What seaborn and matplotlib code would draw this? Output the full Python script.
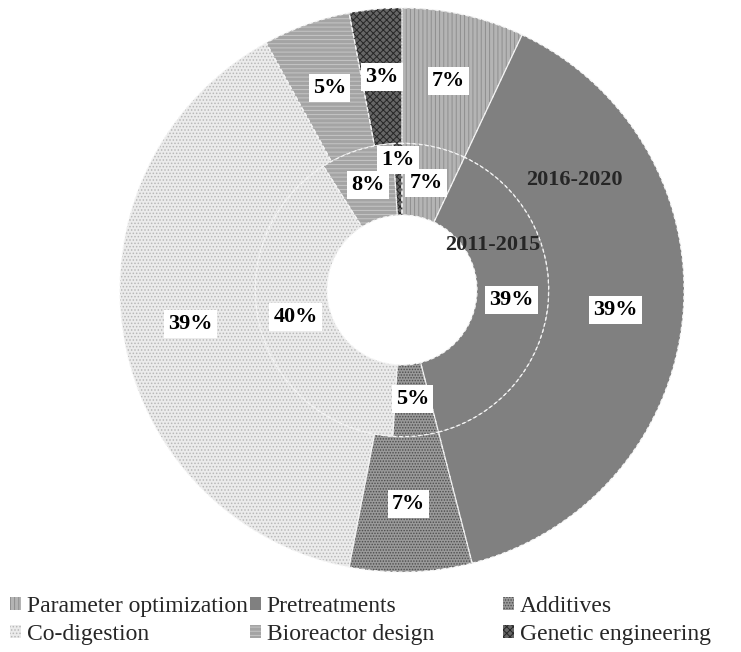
import matplotlib
matplotlib.use("Agg")
import matplotlib.pyplot as plt
from matplotlib.patches import Patch
import numpy as np
import seaborn as sns

# Research focus shares (%) by period
categories = ["Parameter optimization", "Pretreatments", "Additives",
              "Co-digestion", "Bioreactor design", "Genetic engineering"]
share_2016_2020 = [7, 39, 7, 39, 5, 3]
share_2011_2015 = [7, 39, 5, 40, 8, 1]
ring_names = ["2016-2020", "2011-2015"]

sns.set_theme(style="white")
plt.rcParams["font.family"] = ["Liberation Serif", "DejaVu Serif"]
plt.rcParams["hatch.linewidth"] = 0.7

# greyscale fills and their hatch patterns
face_colors = ["#b4b4b4", "#808080", "#9a9a9a", "#ebebeb", "#a4a4a4", "#666666"]
hatch_colors = ["#8e8e8e", "#808080", "#4c4c4c", "#b8b8b8", "#c6c6c6", "#262626"]
hatches = ["||||", None, "......", ".....", "----", "xxxxx"]

fig = plt.figure(figsize=(7.41, 6.52), dpi=100)
R_px = 282
cx, cy = 402, 652 - 290
ax = fig.add_axes([(cx - R_px) / 741, (cy - R_px) / 652, 2 * R_px / 741, 2 * R_px / 652])

r_outer, r_mid, r_hole = 1.0, 0.52, 0.266


def ring(values, radius, width, pctdist):
    wedges, _, autotexts = ax.pie(
        values, radius=radius, startangle=90, counterclock=False,
        colors=face_colors, autopct="%.0f%%", pctdistance=pctdist,
        wedgeprops=dict(width=width, linewidth=0),
        textprops=dict(fontsize=16, fontweight="bold", color="black"))
    for w, h, hc in zip(wedges, hatches, hatch_colors):
        if h:
            w.set_hatch(h)
            w.set_edgecolor(hc)
            w.set_linewidth(0)
    # dashed light separators
    ax.pie(values, radius=radius, startangle=90, counterclock=False,
           colors=["none"] * len(values),
           wedgeprops=dict(width=width, linewidth=0.9, edgecolor="#f4f4f4",
                           linestyle=(0, (3, 2)), fill=False))
    for t in autotexts:
        t.set_bbox(dict(boxstyle="square,pad=0.18", facecolor="white", edgecolor="none"))
        t.set_zorder(5)
    return wedges, autotexts


ring(share_2016_2020, r_outer, r_outer - r_mid, 0.76)
w_in, t_in = ring(share_2011_2015, r_mid, r_mid - r_hole, 0.75)

# nudge the narrowest inner label outward
for w, t, v in zip(w_in, t_in, share_2011_2015):
    if v <= 1:
        ang = np.deg2rad((w.theta1 + w.theta2) / 2)
        t.set_position((0.46 * np.cos(ang), 0.46 * np.sin(ang)))

ax.text(0.613, 0.39, ring_names[0], ha="center", va="center",
        fontsize=16, fontweight="bold", zorder=6)
ax.text(0.323, 0.16, ring_names[1], ha="center", va="center",
        fontsize=16, fontweight="bold", zorder=6)

ax.set_xlim(-1, 1)
ax.set_ylim(-1, 1)
ax.set_aspect("auto")
ax.axis("off")

handles = [Patch(facecolor=fc, edgecolor=hc, hatch=h, linewidth=0)
           for fc, hc, h in zip(face_colors, hatch_colors, hatches)]

col_x = [10 / 741, 250 / 741, 503 / 741]
for k, x0 in enumerate(col_x):
    idx = [k, k + 3]
    fig.legend([handles[i] for i in idx], [categories[i] for i in idx],
               loc="upper left", bbox_to_anchor=(x0, 1 - 596 / 652),
               frameon=False, fontsize=17, handlelength=0.45, handleheight=0.45,
               handletextpad=0.25, labelspacing=0.3, borderpad=0, borderaxespad=0)

fig.savefig("out.png", dpi=100)
